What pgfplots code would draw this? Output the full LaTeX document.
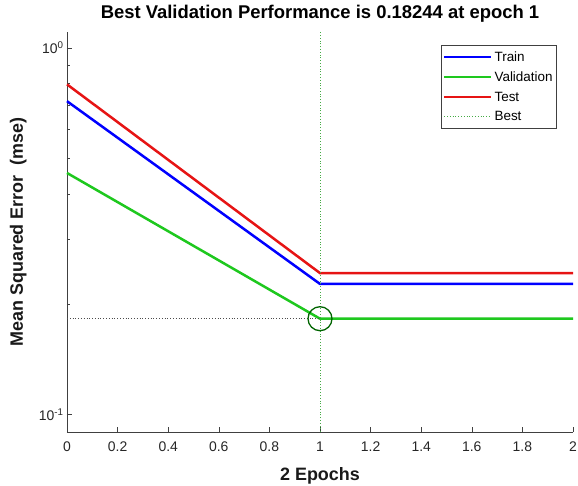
\documentclass[border=0pt]{standalone}
\usepackage{pgfplots}
\pgfplotsset{compat=1.18}
\usepackage{fontspec}
\setmainfont{Liberation Sans}
\definecolor{mblue}{RGB}{0,0,255}
\definecolor{mgreen}{RGB}{30,200,30}
\definecolor{mred}{RGB}{230,20,20}
\definecolor{dgreen}{RGB}{0,100,0}
\begin{document}
\begin{tikzpicture}
\begin{axis}[
  scale only axis, width=506bp, height=400bp,
  ymode=log, xmin=0, xmax=2, ymin=0.0895, ymax=1.106,
  axis x line*=bottom, axis y line*=left,
  axis line style={-, gray!50!black, line width=0.6pt},
  tick align=inside, tick style={gray!50!black, line width=0.5pt},
  major tick length=5bp, minor tick length=3bp,
  xtick={0,0.2,...,2},
  xticklabels={0,0.2,0.4,0.6,0.8,1,1.2,1.4,1.6,1.8,2},
  ytick={0.1,1}, yticklabels={10\textsuperscript{-1},10\textsuperscript{0}},
  ticklabel style={font=\fontsize{14}{16}\selectfont, text=gray!30!black},
  xticklabel style={yshift=-6bp},
  title={\textbf{Best Validation Performance is 0.18244 at epoch 1}},
  title style={font=\fontsize{18.5}{20}\selectfont, at={(axis description cs:0.5,1)}, anchor=base, yshift=8bp},
  xlabel={\textbf{2 Epochs}}, ylabel={\textbf{Mean Squared Error\ \ (mse)}},
  label style={font=\fontsize{18}{20}\selectfont, text=gray!20!black},
  xlabel style={at={(axis description cs:0.5,0)}, anchor=base, yshift=-48bp},
  ylabel style={at={(axis description cs:0,0.5)}, anchor=base, yshift=44bp},
  legend style={at={(0.968,0.967)}, anchor=north east, font=\fontsize{13.5}{15}\selectfont, draw=gray!50!black, row sep=5pt, inner sep=3pt, inner xsep=2pt, inner ysep=4pt},
  legend cell align=left,
  legend image code/.code={\draw[#1] (0bp,0bp) -- (47bp,0bp);},
  clip=false,
]
\addplot[mblue, line width=2.5bp] coordinates {(0,0.716) (1,0.227) (2,0.227)};
\addlegendentry{Train}
\addplot[mgreen, line width=2.5bp] coordinates {(0,0.456) (1,0.18244) (2,0.18244)};
\addlegendentry{Validation}
\addplot[mred, line width=2.5bp] coordinates {(0,0.796) (1,0.243) (2,0.243)};
\addlegendentry{Test}
\addplot[mgreen!60!gray, dotted, line width=0.8pt] coordinates {(1,0.0895) (1,1.106)};
\addlegendentry{Best}
\addplot[gray!60!black, dotted, line width=0.8pt, forget plot] coordinates {(0,0.18244) (1,0.18244)};
\addplot[dgreen, only marks, mark=o, mark size=12bp, mark options={line width=1.3pt}, forget plot] coordinates {(1,0.18244)};
\end{axis}
\pgfresetboundingbox
\path[use as bounding box] (-67bp,-54bp) rectangle (511bp,432bp);
\end{tikzpicture}
\end{document}
